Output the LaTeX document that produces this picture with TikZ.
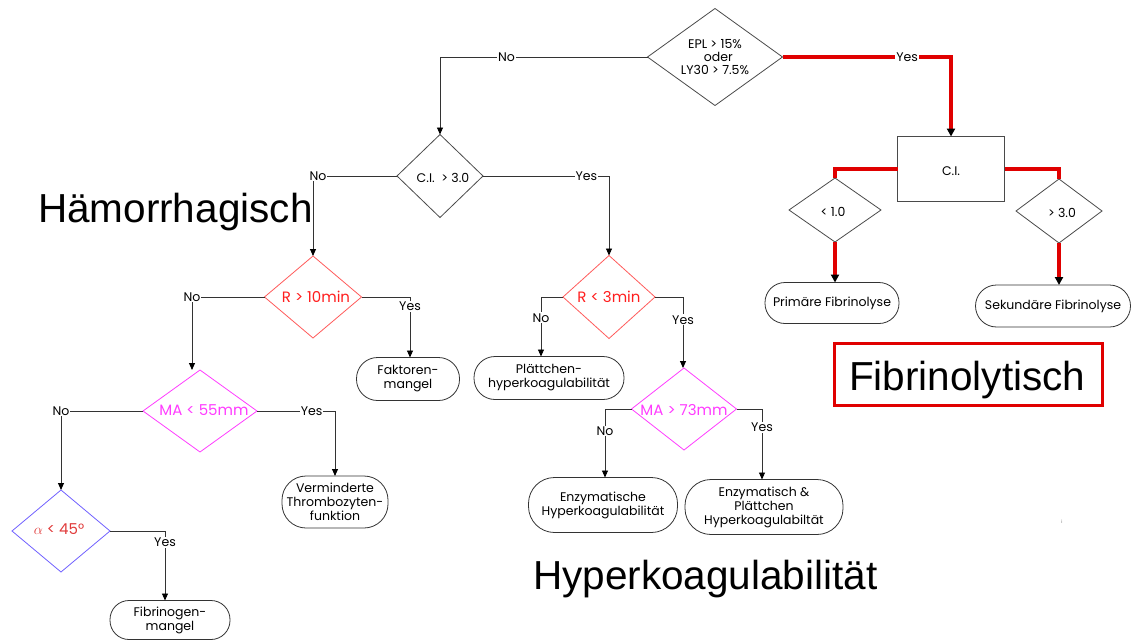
\documentclass[tikz,border=0pt]{standalone}
\usepackage{fontspec}
\setmainfont{Liberation Sans}
\newfontfamily\gothic{Poppins}
\usetikzlibrary{shapes.geometric,arrows.meta}
\definecolor{lgray}{HTML}{333333}
\definecolor{dgray}{HTML}{4A4A4A}
\definecolor{rborder}{HTML}{FF5A5A}
\definecolor{rtext}{HTML}{FF1E1E}
\definecolor{mag}{HTML}{FF3CFF}
\definecolor{violet}{HTML}{7060FF}
\definecolor{atext}{HTML}{E03A3A}
\definecolor{thickred}{HTML}{E00000}
\tikzset{
  every node/.style={inner sep=0pt, outer sep=0pt},
  stadium/.style={draw=lgray, line width=0.8pt, align=center, font=\gothic\fontsize{12.5}{14}\selectfont},
  lbl/.style={fill=white, inner sep=1pt, font=\gothic\fontsize{12.5}{14}\selectfont},
  conn/.style={draw=lgray, line width=0.9pt},
  arr/.style={conn, -{Triangle[length=7pt,width=6pt,color=black]}},
  redl/.style={draw=thickred, line width=3.6pt},
  redarr/.style={redl, -{Triangle[length=8pt,width=8pt,color=black]}},
  big/.style={anchor=base west, font=\fontsize{40.5}{46}\selectfont},
  gt/.style={font=\gothic\fontsize{12.5}{13}\selectfont},
  ct/.style={font=\gothic\fontsize{15}{17}\selectfont},
}
\begin{document}
\begin{tikzpicture}[x=1pt,y=-1pt]
\useasboundingbox (0,0) rectangle (1134,642);
% diamonds
\node[shape=diamond, draw=dgray, line width=0.8pt, minimum width=135pt, minimum height=97pt] (epl) at (715,57) {};
\node[gt, align=center] at (715,57) {EPL > 15\%\\ \ \ oder\\LY30 > 7.5\%};
\node[shape=diamond, draw=dgray, line width=0.8pt, minimum width=86pt, minimum height=83pt] (ci3) at (440,176) {};
\node[gt] at (443,178) {C.I.\ \ > 3.0};
\node[draw=dgray, line width=0.8pt, minimum width=107pt, minimum height=65pt] (cibox) at (951,169) {};
\node[gt] at (951,171) {C.I.};
\node[shape=diamond, draw=dgray, line width=0.8pt, minimum width=92pt, minimum height=64pt] (lt1) at (835,210) {};
\node[gt] at (833,212) {< 1.0};
\node[shape=diamond, draw=dgray, line width=0.8pt, minimum width=86pt, minimum height=64pt] (gt3) at (1059,211) {};
\node[gt] at (1062,213) {> 3.0};
\node[shape=diamond, draw=rborder, line width=0.8pt, minimum width=97pt, minimum height=82pt] (r10) at (313,297) {};
\node[ct, text=rtext] at (316,297) {R > 10min};
\node[shape=diamond, draw=rborder, line width=0.8pt, minimum width=92pt, minimum height=83pt] (r3) at (609,297) {};
\node[ct, text=rtext] at (609,297) {R < 3min};
\node[shape=diamond, draw=mag, line width=0.8pt, minimum width=114pt, minimum height=82pt] (ma55) at (200,411) {};
\node[ct, text=mag] at (204,410) {MA < 55mm};
\node[shape=diamond, draw=mag, line width=0.8pt, minimum width=105pt, minimum height=82pt] (ma73) at (684,409) {};
\node[ct, text=mag] at (684,410) {MA > 73mm};
\node[shape=diamond, draw=violet, line width=0.8pt, minimum width=98pt, minimum height=82pt] (alpha) at (61,531) {};
\node[ct, text=atext] at (59,529) {$\alpha$ < 45°};
% terminal boxes
\node[stadium, minimum width=134pt, minimum height=41pt, rounded corners=20pt] (prim) at (832,303) {Primäre Fibrinolyse};
\node[stadium, minimum width=155pt, minimum height=42pt, rounded corners=21pt] (sek) at (1053,306) {Sekundäre Fibrinolyse};
\node[stadium, minimum width=103pt, minimum height=43pt, rounded corners=21pt] (fakt) at (408,379) {Faktoren-\\mangel};
\node[stadium, minimum width=150pt, minimum height=43pt, rounded corners=21pt] (plat) at (549,378) {Plättchen-\\hyperkoagulabilität};
\node[stadium, minimum width=106pt, minimum height=52pt, rounded corners=24pt] (verm) at (335,502) {Verminderte\\Thrombozyten-\\funktion};
\node[stadium, minimum width=120pt, minimum height=39pt, rounded corners=19pt] (fibg) at (170,620) {Fibrinogen-\\mangel};
\node[stadium, minimum width=149pt, minimum height=55pt, rounded corners=26pt] (enz) at (603,505) {Enzymatische\\Hyperkoagulabilität};
\node[stadium, minimum width=158pt, minimum height=55pt, rounded corners=26pt] (enzpl) at (764,507) {Enzymatisch \&\\Plättchen\\Hyperkoagulabiltät};
% big labels
\node[big] (haem) at (38,222) {Hämorrhagisch};
\node[big] (hyper) at (533,589) {Hyperkoagulabilität};
\node[draw=thickred, line width=2.6pt, minimum width=268pt, minimum height=62pt] (fibbox) at (968.5,374.5) {};
\node[big] (fibtxt) at (849,390) {Fibrinolytisch};
\node[text=gray, font=\fontsize{5}{6}\selectfont] (dot) at (1062,522) {i};
% connectors
\draw[arr] (epl.west) -| node[lbl, pos=0.34] {No} (ci3.north);
\draw[redarr] (epl.east) -| node[lbl, pos=0.37] {Yes} (cibox.north);
\draw[redl] (cibox.west) -| (lt1.north);
\draw[redl] (cibox.east) -| (gt3.north);
\draw[redarr] (lt1.south) -- (prim.north -| lt1.south);
\draw[redarr] (gt3.south) -- (sek.north -| gt3.south);
\draw[arr] (ci3.west) -| node[lbl, pos=0.47] {No} (r10.north);
\draw[arr] (ci3.east) -| node[lbl, pos=0.41] {Yes} (r3.north);
\draw[arr] (r10.west) -| node[lbl, pos=0.5] {No} ([xshift=-8pt]ma55.north);
\draw[arr] (r10.east) -| node[lbl, pos=0.58] {Yes} ([xshift=2pt]fakt.north);
\draw[arr] (ma55.west) -| node[lbl, pos=0.5] {No} (alpha.north);
\draw[arr] (ma55.east) -| node[lbl, pos=0.35] {Yes} (verm.north);
\draw[arr] (alpha.east) -| node[lbl, pos=0.58] {Yes} ([xshift=-5pt]fibg.north);
\draw[arr] (r3.west) -| node[lbl, pos=0.675] {No} ([xshift=-8pt]plat.north);
\draw[arr] (r3.east) -| node[lbl, pos=0.66] {Yes} ([xshift=-1pt]ma73.north);
\draw[arr] (ma73.west) -| node[lbl, pos=0.66] {No} ([xshift=2pt]enz.north);
\draw[arr] (ma73.east) -| node[lbl, pos=0.63] {Yes} ([xshift=-2pt]enzpl.north);
\end{tikzpicture}
\end{document}
